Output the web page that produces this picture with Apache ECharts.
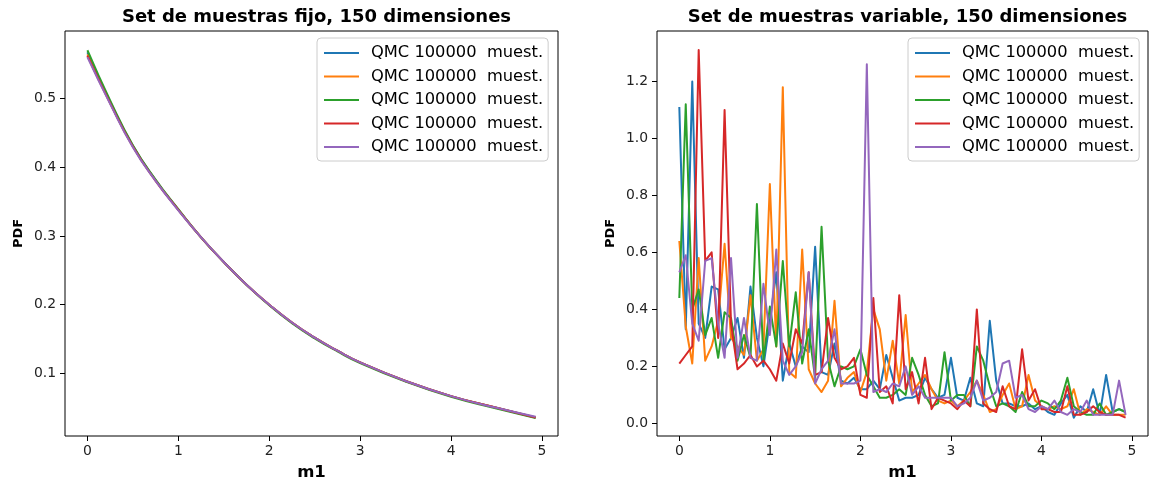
<!DOCTYPE html>
<html>
<head>
<meta charset="utf-8">
<script src="https://cdn.jsdelivr.net/npm/echarts@6.0.0/dist/echarts.min.js"></script>
<style>
  html, body { margin: 0; padding: 0; background: #fff; }
  #chart { width: 1149px; height: 486px; }
</style>
</head>
<body>
<div id="chart"></div>
<script>
// titles / labels
const titles = ['Set de muestras fijo, 150 dimensiones', 'Set de muestras variable, 150 dimensiones'];
const legendLabel = 'QMC 100000  muest.';
const colors = ['#1f77b4', '#ff7f0e', '#2ca02c', '#d62728', '#9467bd'];

// tick labels
const xTicks = [0, 1, 2, 3, 4, 5];
const yTicksFijo = [0.1, 0.2, 0.3, 0.4, 0.5];
const yTicksVar = [0.0, 0.2, 0.4, 0.6, 0.8, 1.0, 1.2];

// left panel: fixed sample set (curves nearly identical)
const m1Fijo = [0, 0.25, 0.5, 0.75, 1, 1.25, 1.5, 1.75, 2, 2.25, 2.5, 2.75, 3, 3.5, 4, 4.5, 4.93];
const fijo1 = [0.567, 0.495, 0.431, 0.381, 0.338, 0.298, 0.262, 0.229, 0.200, 0.174, 0.152, 0.133, 0.116, 0.089, 0.067, 0.050, 0.036];
const fijo2 = [0.564, 0.494, 0.430, 0.381, 0.338, 0.298, 0.262, 0.229, 0.200, 0.174, 0.152, 0.133, 0.116, 0.089, 0.067, 0.050, 0.036];
const fijo3 = [0.570, 0.497, 0.432, 0.382, 0.339, 0.298, 0.262, 0.229, 0.199, 0.173, 0.151, 0.132, 0.115, 0.088, 0.066, 0.049, 0.035];
const fijo4 = [0.562, 0.493, 0.430, 0.380, 0.338, 0.298, 0.262, 0.229, 0.200, 0.174, 0.152, 0.133, 0.116, 0.089, 0.067, 0.050, 0.036];
const fijo5 = [0.560, 0.492, 0.429, 0.380, 0.337, 0.298, 0.262, 0.229, 0.200, 0.174, 0.152, 0.133, 0.116, 0.089, 0.067, 0.050, 0.037];

// right panel: variable sample set
const m1Var = [
  0, 0.071, 0.143, 0.214, 0.286, 0.357, 0.429, 0.5, 0.571, 0.643,
  0.714, 0.786, 0.857, 0.929, 1, 1.071, 1.143, 1.214, 1.286, 1.357,
  1.429, 1.5, 1.571, 1.643, 1.714, 1.786, 1.857, 1.929, 2, 2.071,
  2.143, 2.214, 2.286, 2.357, 2.429, 2.5, 2.571, 2.643, 2.714, 2.786,
  2.857, 2.929, 3, 3.071, 3.143, 3.214, 3.286, 3.357, 3.429, 3.5,
  3.571, 3.643, 3.714, 3.786, 3.857, 3.929, 4, 4.071, 4.143, 4.214,
  4.286, 4.357, 4.429, 4.5, 4.571, 4.643, 4.714, 4.786, 4.857, 4.929
];
const var1 = [
  1.11, 0.33, 1.20, 0.35, 0.30, 0.48, 0.47, 0.26, 0.30, 0.37,
  0.23, 0.48, 0.30, 0.20, 0.36, 0.53, 0.15, 0.28, 0.20, 0.27,
  0.25, 0.62, 0.18, 0.17, 0.28, 0.15, 0.14, 0.16, 0.12, 0.12,
  0.15, 0.12, 0.24, 0.16, 0.08, 0.09, 0.09, 0.10, 0.16, 0.12,
  0.09, 0.10, 0.23, 0.09, 0.08, 0.16, 0.07, 0.06, 0.36, 0.15,
  0.07, 0.07, 0.06, 0.06, 0.07, 0.05, 0.06, 0.04, 0.03, 0.07,
  0.10, 0.02, 0.06, 0.04, 0.12, 0.03, 0.17, 0.04, 0.05, 0.04
];
const var2 = [
  0.64, 0.34, 0.21, 0.58, 0.22, 0.27, 0.36, 0.63, 0.30, 0.27,
  0.24, 0.45, 0.22, 0.26, 0.84, 0.27, 1.18, 0.18, 0.16, 0.61,
  0.19, 0.14, 0.11, 0.15, 0.43, 0.13, 0.16, 0.18, 0.11, 0.18,
  0.40, 0.33, 0.15, 0.29, 0.14, 0.38, 0.11, 0.14, 0.17, 0.12,
  0.08, 0.07, 0.08, 0.06, 0.08, 0.11, 0.15, 0.10, 0.04, 0.05,
  0.10, 0.14, 0.05, 0.06, 0.17, 0.08, 0.06, 0.05, 0.06, 0.05,
  0.06, 0.12, 0.03, 0.05, 0.04, 0.03, 0.06, 0.03, 0.03, 0.03
];
const var3 = [
  0.44, 1.12, 0.40, 0.47, 0.31, 0.37, 0.23, 0.39, 0.37, 0.22,
  0.31, 0.23, 0.77, 0.22, 0.41, 0.27, 0.57, 0.27, 0.46, 0.21,
  0.33, 0.16, 0.69, 0.22, 0.13, 0.20, 0.19, 0.20, 0.26, 0.17,
  0.13, 0.09, 0.09, 0.10, 0.12, 0.10, 0.23, 0.17, 0.10, 0.06,
  0.07, 0.25, 0.08, 0.10, 0.10, 0.06, 0.27, 0.22, 0.13, 0.06,
  0.07, 0.06, 0.04, 0.11, 0.06, 0.06, 0.08, 0.07, 0.05, 0.08,
  0.16, 0.06, 0.04, 0.03, 0.03, 0.07, 0.03, 0.04, 0.05, 0.04
];
const var4 = [
  0.21, 0.24, 0.27, 1.31, 0.57, 0.60, 0.30, 1.10, 0.35, 0.19,
  0.21, 0.24, 0.20, 0.22, 0.19, 0.15, 0.28, 0.21, 0.33, 0.28,
  0.53, 0.17, 0.18, 0.37, 0.23, 0.19, 0.20, 0.23, 0.10, 0.09,
  0.44, 0.11, 0.13, 0.07, 0.45, 0.12, 0.18, 0.07, 0.23, 0.05,
  0.09, 0.08, 0.07, 0.05, 0.08, 0.06, 0.40, 0.07, 0.05, 0.04,
  0.13, 0.06, 0.05, 0.26, 0.08, 0.12, 0.05, 0.05, 0.04, 0.04,
  0.13, 0.03, 0.03, 0.04, 0.06, 0.04, 0.03, 0.03, 0.03, 0.02
];
const var5 = [
  0.53, 0.59, 0.35, 0.29, 0.57, 0.58, 0.35, 0.23, 0.58, 0.23,
  0.37, 0.23, 0.22, 0.49, 0.31, 0.61, 0.22, 0.17, 0.20, 0.25,
  0.53, 0.14, 0.19, 0.22, 0.33, 0.14, 0.14, 0.14, 0.15, 1.26,
  0.11, 0.12, 0.11, 0.14, 0.13, 0.20, 0.10, 0.13, 0.09, 0.09,
  0.09, 0.09, 0.09, 0.06, 0.07, 0.09, 0.15, 0.08, 0.09, 0.11,
  0.21, 0.22, 0.09, 0.10, 0.05, 0.04, 0.06, 0.05, 0.08, 0.04,
  0.03, 0.05, 0.04, 0.08, 0.03, 0.03, 0.03, 0.03, 0.15, 0.03
];

const fijo = [fijo1, fijo2, fijo3, fijo4, fijo5];
const variable = [var1, var2, var3, var4, var5];

const font = 'DejaVu Sans';

function pair(xs, ys) {
  return xs.map((x, i) => [x, ys[i]]);
}

function makeSeries(list, xs, grid, tag, smooth) {
  return list.map((ys, i) => ({
    name: legendLabel + '|' + tag + i,
    type: 'line',
    xAxisIndex: grid,
    yAxisIndex: grid,
    data: pair(xs, ys),
    symbol: 'none',
    smooth: smooth,
    lineStyle: { color: colors[i], width: 2, join: 'round' },
    itemStyle: { color: colors[i] },
    z: 2 + i
  }));
}

function xAxis(grid) {
  return {
    type: 'value', gridIndex: grid,
    min: -0.2465, max: 5.1765,
    name: 'm1', nameLocation: 'middle', nameGap: 28,
    nameTextStyle: { fontFamily: font, fontWeight: 'bold', fontSize: 16.5, color: '#000' },
    axisLine: { show: false, onZero: false },
    axisTick: { show: true, inside: false, length: 5, customValues: xTicks, lineStyle: { color: '#000' } },
    axisLabel: { customValues: xTicks, margin: 8, fontFamily: font, fontSize: 13.9, color: '#222' },
    splitLine: { show: false }
  };
}

function yAxis(grid, min, max, ticks) {
  return {
    type: 'value', gridIndex: grid,
    min: min, max: max,
    name: 'PDF', nameLocation: 'middle', nameGap: 40, nameRotate: 90,
    nameTextStyle: { fontFamily: font, fontWeight: 'bold', fontSize: 13, color: '#000' },
    axisLine: { show: false, onZero: false },
    axisTick: { show: true, inside: false, length: 5, customValues: ticks, lineStyle: { color: '#000' } },
    axisLabel: { customValues: ticks, margin: 9, fontFamily: font, fontSize: 13.9, color: '#222',
      formatter: v => v.toFixed(1) },
    splitLine: { show: false }
  };
}

function legend(left, tag) {
  return {
    orient: 'vertical',
    left: left, top: 38,
    data: colors.map((c, i) => legendLabel + '|' + tag + i),
    formatter: n => n.split('|')[0],
    itemWidth: 35, itemHeight: 14, itemGap: 7.5,
    padding: [7, 5, 6, 6],
    backgroundColor: '#fff',
    borderColor: '#cccccc', borderWidth: 1, borderRadius: 4,
    selectedMode: false,
    itemStyle: { opacity: 0 },
    textStyle: { fontFamily: font, fontSize: 16.3, color: '#000', padding: [0, 0, 0, 7] }
  };
}

const option = {
  animation: false,
  backgroundColor: '#fff',
  title: [
    { text: titles[0], left: 311.5, top: 3, textAlign: 'center',
      textStyle: { fontFamily: font, fontWeight: 'bold', fontSize: 18, color: '#000' } },
    { text: titles[1], left: 902.5, top: 3, textAlign: 'center',
      textStyle: { fontFamily: font, fontWeight: 'bold', fontSize: 18, color: '#000' } }
  ],
  grid: [
    { left: 65, right: 591, top: 31, bottom: 50, show: true, borderColor: '#000', borderWidth: 1, backgroundColor: 'transparent' },
    { left: 657, right: 1, top: 31, bottom: 50, show: true, borderColor: '#000', borderWidth: 1, backgroundColor: 'transparent' }
  ],
  xAxis: [xAxis(0), xAxis(1)],
  yAxis: [yAxis(0, 0.009, 0.598, yTicksFijo), yAxis(1, -0.0443, 1.377, yTicksVar)],
  legend: [legend(317, 'F'), legend(908, 'V')],
  series: makeSeries(fijo, m1Fijo, 0, 'F', true).concat(makeSeries(variable, m1Var, 1, 'V', false))
};

const chart = echarts.init(document.getElementById('chart'), null, { renderer: 'canvas' });
chart.setOption(option);
</script>
</body>
</html>
